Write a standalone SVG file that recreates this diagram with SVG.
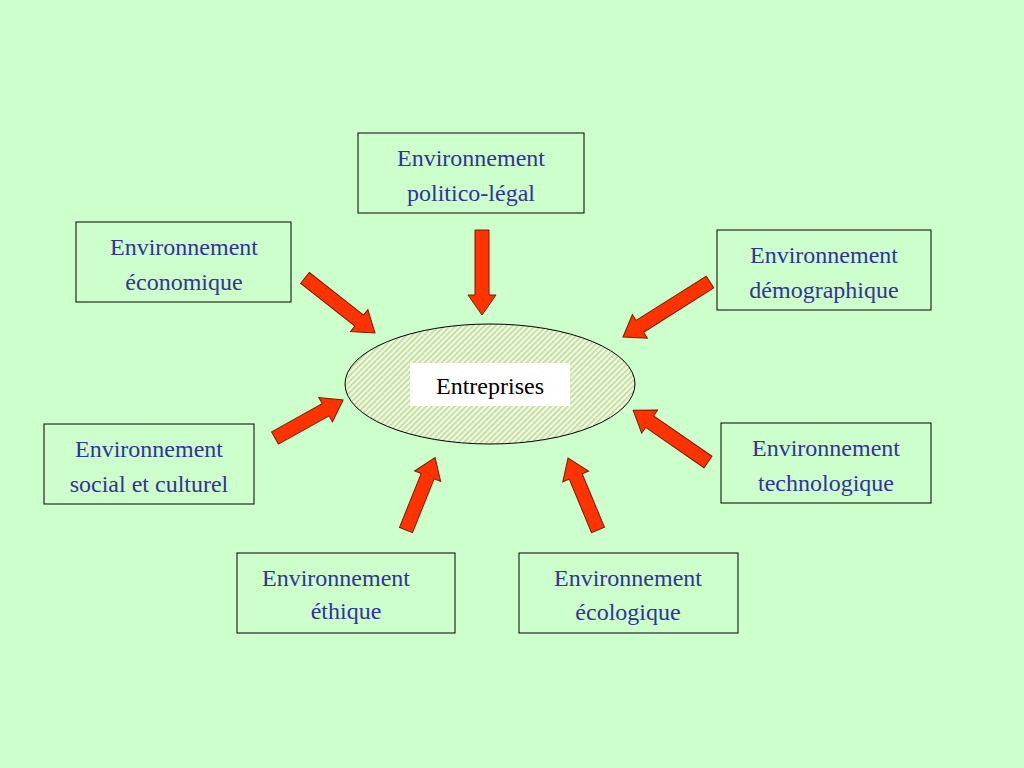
<svg xmlns="http://www.w3.org/2000/svg" width="1024" height="768" viewBox="0 0 1024 768">
<style>
.box{fill:none;stroke:#000;stroke-width:1}
.t{font-family:"Liberation Serif",serif;font-size:24px;fill:#333399;text-anchor:middle}
.arr{fill:#FF3300;stroke:#7a1a00;stroke-width:1}
</style>
<defs>
<pattern id="h" width="4" height="4" patternUnits="userSpaceOnUse" patternTransform="rotate(45)">
<rect width="4" height="4" fill="#f4f8dc"/><rect width="1.6" height="4" fill="#b8dca0"/>
</pattern>
</defs>
<rect width="1024" height="768" fill="#ccffcc"/>
<g id="center">
<ellipse cx="490" cy="384" rx="145" ry="60" fill="url(#h)" stroke="#000" stroke-width="1"/>
<rect x="410" y="363" width="160" height="43" fill="#fff"/>
<text x="490" y="394" style="font-family:'Liberation Serif',serif;font-size:24px;fill:#000;text-anchor:middle">Entreprises</text>
</g>
<g id="n-politico"><rect class="box" x="358" y="133" width="226" height="80"/><text class="t" x="471" y="166">Environnement</text><text class="t" x="471" y="201">politico-légal</text></g>
<g id="n-eco"><rect class="box" x="76" y="222" width="215" height="80"/><text class="t" x="184" y="255">Environnement</text><text class="t" x="184" y="290">économique</text></g>
<g id="n-demo"><rect class="box" x="717" y="230" width="214" height="80"/><text class="t" x="824" y="263">Environnement</text><text class="t" x="824" y="298">démographique</text></g>
<g id="n-social"><rect class="box" x="44" y="424" width="210" height="80"/><text class="t" x="149" y="457">Environnement</text><text class="t" x="149" y="492">social et culturel</text></g>
<g id="n-tech"><rect class="box" x="721" y="423" width="210" height="80"/><text class="t" x="826" y="456">Environnement</text><text class="t" x="826" y="491">technologique</text></g>
<g id="n-ethique"><rect class="box" x="237" y="553" width="218" height="80"/><text class="t" x="336" y="586">Environnement</text><text class="t" x="346" y="619">éthique</text></g>
<g id="n-ecolo"><rect class="box" x="519" y="553" width="219" height="80"/><text class="t" x="628" y="586">Environnement</text><text class="t" x="628" y="620">écologique</text></g>
<g id="connectors">
<polygon class="arr" transform="translate(482,230) rotate(90)" points="0,-7 65,-7 65,-14 85,0 65,14 65,7 0,7"/>
<polygon class="arr" transform="translate(305,278) rotate(38.2)" points="0,-7 69,-7 69,-14 89,0 69,14 69,7 0,7"/>
<polygon class="arr" transform="translate(710,282) rotate(147.7)" points="0,-7 83,-7 83,-14 103,0 83,14 83,7 0,7"/>
<polygon class="arr" transform="translate(275,438) rotate(-29.2)" points="0,-7 58,-7 58,-14 78,0 58,14 58,7 0,7"/>
<polygon class="arr" transform="translate(708,462) rotate(214.7)" points="0,-7 71,-7 71,-14 91,0 71,14 71,7 0,7"/>
<polygon class="arr" transform="translate(406,530) rotate(-68.1)" points="0,-7 58,-7 58,-14 78,0 58,14 58,7 0,7"/>
<polygon class="arr" transform="translate(598,530) rotate(247.4)" points="0,-7 58,-7 58,-14 78,0 58,14 58,7 0,7"/>
</g>
</svg>
